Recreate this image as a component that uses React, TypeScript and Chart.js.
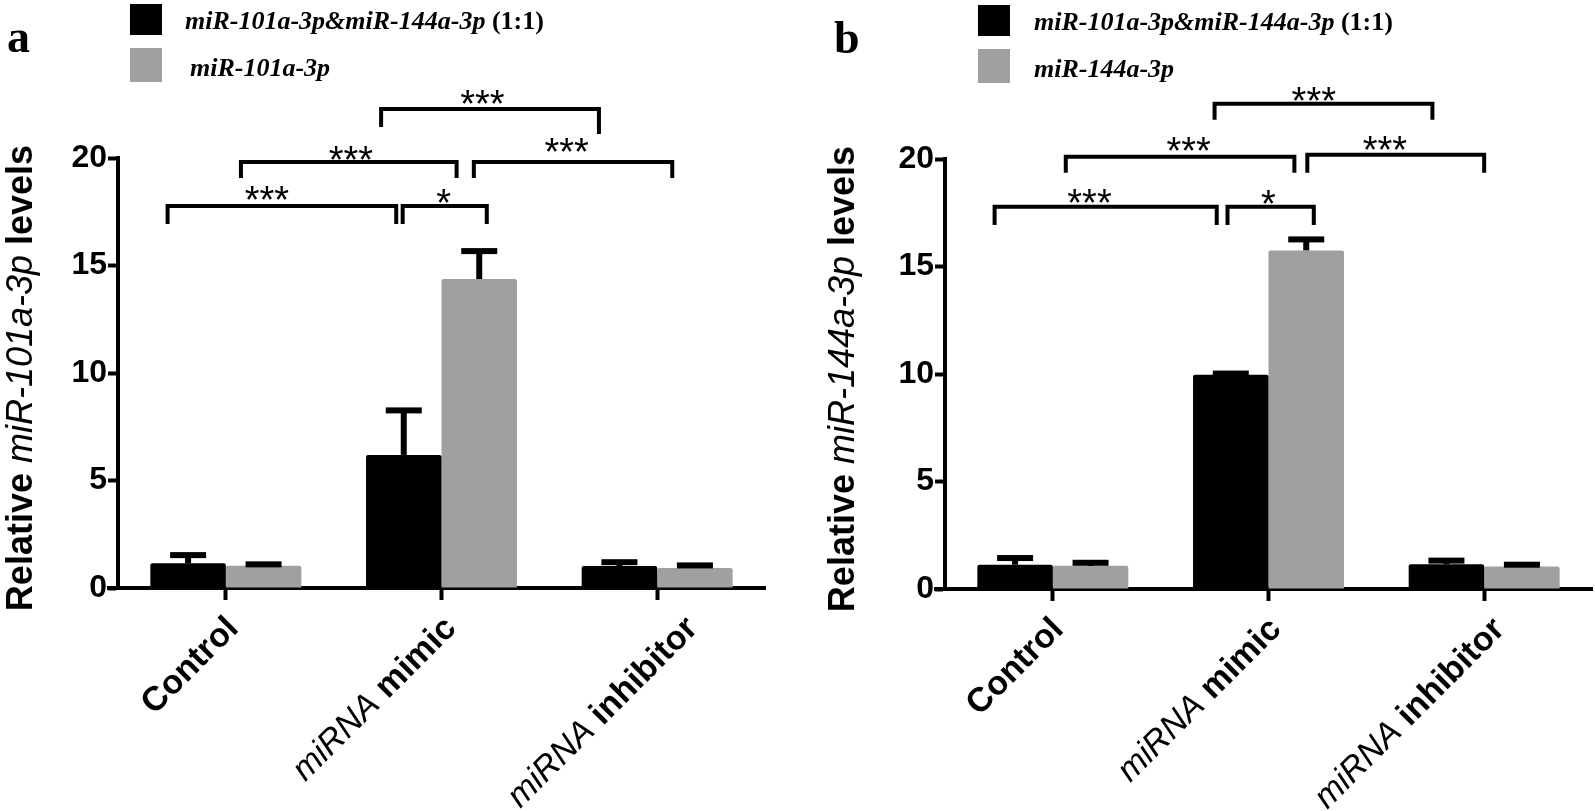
import React, { useEffect, useRef } from "react";
import { Chart, registerables } from "chart.js";

Chart.register(...registerables);

// ---------- shared data ----------
const categories = ["Control", "miRNA mimic", "miRNA inhibitor"];
const yTickValues = [0, 5, 10, 15, 20];
const yMin = 0;
const yMax = 20;
const comboName = "miR-101a-3p&miR-144a-3p";
const comboSuffix = " (1:1)";

// ---------- panel a ----------
const geneA = "miR-101a-3p";
const comboValuesA = [1.15, 6.19, 1.02];
const comboErrorsA = [0.38, 2.07, 0.18];
const singleValuesA = [1.04, 14.37, 0.93];
const singleErrorsA = [0.06, 1.3, 0.12];
const bracketFromA = [-0.27, 0.82, 0.07, 1.15, 0.72];
const bracketToA = [0.79, 1.21, 1.07, 2.07, 1.73];
const bracketLevelA = [17.77, 17.77, 19.81, 19.81, 22.28];
const bracketLegLeftA = [16.93, 16.93, 19.07, 19.07, 21.44];
const bracketLegRightA = [16.93, 16.93, 19.07, 19.07, 21.12];
const bracketTextA = ["***", "*", "***", "***", "***"];
const bracketTextXA = [0.19, 1.01, 0.58, 1.58, 1.19];
const bracketTextYA = [18.44, 18.28, 20.26, 20.65, 22.88];

// ---------- panel b ----------
const geneB = "miR-144a-3p";
const comboValuesB = [1.13, 9.97, 1.15];
const comboErrorsB = [0.31, 0.05, 0.17];
const singleValuesB = [1.08, 15.75, 1.05];
const singleErrorsB = [0.14, 0.51, 0.08];
const bracketFromB = [-0.27, 0.81, 0.06, 1.18, 0.75];
const bracketToB = [0.76, 1.21, 1.12, 2.0, 1.76];
const bracketLevelB = [17.78, 17.78, 20.11, 20.2, 22.57];
const bracketLegLeftB = [16.93, 16.93, 19.36, 19.36, 21.83];
const bracketLegRightB = [16.93, 16.93, 19.36, 19.36, 21.83];
const bracketTextB = ["***", "*", "***", "***", "***"];
const bracketTextXB = [0.17, 1.0, 0.63, 1.54, 1.21];
const bracketTextYB = [18.34, 18.26, 20.73, 20.8, 23.06];

const SANS = "'Liberation Sans', Arial, sans-serif";
const SERIF = "'Liberation Serif', 'Times New Roman', serif";
const BLACK = "#000000";
const GRAY = "#a0a0a0";

type Run = { text: string; font: string };

function drawRuns(ctx: CanvasRenderingContext2D, runs: Run[], x: number, y: number, align: string) {
  const widths = runs.map((r) => {
    ctx.font = r.font;
    return ctx.measureText(r.text).width;
  });
  const total = widths.reduce((a, b) => a + b, 0);
  let cx = align === "left" ? x : align === "center" ? x - total / 2 : x - total;
  ctx.textAlign = "left";
  runs.forEach((r, i) => {
    ctx.font = r.font;
    ctx.fillText(r.text, cx, y);
    cx += widths[i];
  });
}

type PanelCfg = {
  letter: string;
  gene: string;
  combo: number[];
  comboErr: number[];
  single: number[];
  singleErr: number[];
  bFrom: number[];
  bTo: number[];
  bLevel: number[];
  bLegL: number[];
  bLegR: number[];
  bText: string[];
  bTextX: number[];
  bTextY: number[];
  left: number;
  top: number;
  legendSquareX: number;
  legendTextX1: number;
  legendTextX2: number;
  titleX: number;
  labelDx: number[];
};

function Panel({ cfg }: { cfg: PanelCfg }) {
  const ref = useRef<HTMLCanvasElement | null>(null);
  useEffect(() => {
    const canvas = ref.current;
    if (!canvas) return;
    const decor = {
      id: "decor",
      afterDatasetsDraw(chart: any) {
        const ctx: CanvasRenderingContext2D = chart.ctx;
        const ys = chart.scales.y;
        ctx.save();
        ctx.fillStyle = BLACK;
        [0, 1].forEach((di) => {
          const meta = chart.getDatasetMeta(di);
          const vals = di === 0 ? cfg.combo : cfg.single;
          const errs = di === 0 ? cfg.comboErr : cfg.singleErr;
          meta.data.forEach((bar: any, i: number) => {
            const x = bar.x;
            const yTop = ys.getPixelForValue(vals[i]);
            const yErr = ys.getPixelForValue(vals[i] + errs[i]);
            ctx.fillRect(x - 3, yErr, 6, yTop - yErr);
            ctx.fillRect(x - 18, yErr - 3, 36, 6);
          });
        });
        ctx.restore();
      },
      afterDraw(chart: any) {
        const ctx: CanvasRenderingContext2D = chart.ctx;
        const xs = chart.scales.x;
        const ys = chart.scales.y;
        const ca = chart.chartArea;
        const x0 = xs.getPixelForValue(0);
        const step = xs.getPixelForValue(1) - x0;
        const xp = (v: number) => x0 + v * step;
        ctx.save();
        ctx.fillStyle = BLACK;
        ctx.strokeStyle = BLACK;
        // x axis extension to the left of the y axis
        ctx.lineWidth = 4;
        ctx.beginPath();
        ctx.moveTo(ca.left - 11, ca.bottom);
        ctx.lineTo(ca.left, ca.bottom);
        ctx.stroke();
        // brackets
        ctx.lineWidth = 4;
        ctx.lineJoin = "miter";
        cfg.bFrom.forEach((f, i) => {
          const x1 = xp(f);
          const x2 = xp(cfg.bTo[i]);
          const y = ys.getPixelForValue(cfg.bLevel[i]);
          ctx.beginPath();
          ctx.moveTo(x1, ys.getPixelForValue(cfg.bLegL[i]));
          ctx.lineTo(x1, y);
          ctx.lineTo(x2, y);
          ctx.lineTo(x2, ys.getPixelForValue(cfg.bLegR[i]));
          ctx.stroke();
          ctx.font = `38px ${SANS}`;
          ctx.textAlign = "center";
          ctx.textBaseline = "alphabetic";
          ctx.fillText(cfg.bText[i], xp(cfg.bTextX[i]), ys.getPixelForValue(cfg.bTextY[i]) + 21);
        });
        // category labels
        ctx.textBaseline = "alphabetic";
        categories.forEach((c, i) => {
          const tx = xs.getPixelForValue(i);
          ctx.save();
          ctx.translate(tx + 12 + cfg.labelDx[i], ca.bottom + 42);
          ctx.rotate(-Math.PI / 4);
          let runs: Run[];
          if (c.startsWith("miRNA ")) {
            runs = [
              { text: "miRNA", font: `italic 34px ${SANS}` },
              { text: c.slice(5), font: `bold 34px ${SANS}` },
            ];
          } else {
            runs = [{ text: c, font: `bold 34px ${SANS}` }];
          }
          drawRuns(ctx, runs, 0, 0, "right");
          ctx.restore();
        });
        // y title
        ctx.save();
        ctx.translate(cfg.titleX, (ca.top + ca.bottom) / 2 + 5);
        ctx.rotate(-Math.PI / 2);
        drawRuns(
          ctx,
          [
            { text: "Relative ", font: `bold 36px ${SANS}` },
            { text: cfg.gene, font: `italic 36px ${SANS}` },
            { text: " levels", font: `bold 36px ${SANS}` },
          ],
          0,
          0,
          "center"
        );
        ctx.restore();
        // panel letter
        ctx.font = `bold 46px ${SERIF}`;
        ctx.textAlign = "left";
        ctx.fillText(cfg.letter, 7, 52);
        // legend
        ctx.fillStyle = BLACK;
        ctx.fillRect(cfg.legendSquareX, 4, 32, 31);
        ctx.fillStyle = GRAY;
        ctx.fillRect(cfg.legendSquareX, 48, 32, 34);
        ctx.fillStyle = BLACK;
        drawRuns(
          ctx,
          [
            { text: comboName, font: `bold italic 26px ${SERIF}` },
            { text: comboSuffix, font: `bold 26px ${SERIF}` },
          ],
          cfg.legendTextX1,
          29,
          "left"
        );
        drawRuns(ctx, [{ text: cfg.gene, font: `bold italic 26px ${SERIF}` }], cfg.legendTextX2, 76, "left");
        ctx.restore();
      },
    };

    const tickFont = { family: SANS, size: 32, weight: "bold" as const };
    const chart = new Chart(canvas, {
      type: "bar",
      data: {
        labels: categories,
        datasets: [
          {
            label: comboName + comboSuffix,
            data: cfg.combo,
            backgroundColor: BLACK,
            borderWidth: 0,
            borderRadius: 2,
            categoryPercentage: 0.7,
            barPercentage: 1.0,
          },
          {
            label: cfg.gene,
            data: cfg.single,
            backgroundColor: GRAY,
            borderWidth: 0,
            borderRadius: 2,
            categoryPercentage: 0.7,
            barPercentage: 1.0,
          },
        ],
      },
      options: {
        responsive: false,
        animation: false,
        devicePixelRatio: 1,
        layout: { padding: { left: 0, right: 5, top: 158, bottom: 0 } },
        plugins: { legend: { display: false }, tooltip: { enabled: false }, title: { display: false } },
        scales: {
          x: {
            type: "category",
            offset: true,
            grid: {
              display: true,
              drawOnChartArea: false,
              drawTicks: true,
              tickLength: 12,
              tickWidth: 4,
              tickColor: BLACK,
              offset: false,
            },
            border: { display: true, color: BLACK, width: 4 },
            ticks: { display: false },
            afterFit: (s: any) => {
              s.height = 223;
            },
          },
          y: {
            min: yMin,
            max: yMax,
            afterBuildTicks: (s: any) => {
              s.ticks = yTickValues.map((v) => ({ value: v }));
            },
            ticks: { font: tickFont, color: BLACK, padding: 1 },
            grid: {
              display: true,
              drawOnChartArea: false,
              drawTicks: true,
              tickLength: 10,
              tickWidth: 4,
              tickColor: BLACK,
            },
            border: { display: true, color: BLACK, width: 4 },
            afterFit: (s: any) => {
              s.width = 118;
            },
          },
        },
      },
      plugins: [decor],
    } as any);
    return () => chart.destroy();
  }, [cfg]);
  return (
    <canvas
      ref={ref}
      width={770}
      height={811}
      style={{ position: "absolute", left: cfg.left, top: cfg.top, width: 770, height: 811 }}
    />
  );
}

const panelA: PanelCfg = {
  letter: "a",
  gene: geneA,
  combo: comboValuesA,
  comboErr: comboErrorsA,
  single: singleValuesA,
  singleErr: singleErrorsA,
  bFrom: bracketFromA,
  bTo: bracketToA,
  bLevel: bracketLevelA,
  bLegL: bracketLegLeftA,
  bLegR: bracketLegRightA,
  bText: bracketTextA,
  bTextX: bracketTextXA,
  bTextY: bracketTextYA,
  left: 0,
  top: 0,
  legendSquareX: 130,
  legendTextX1: 185,
  legendTextX2: 190,
  titleX: 32,
  labelDx: [2, 4, 30],
};

const panelB: PanelCfg = {
  letter: "b",
  gene: geneB,
  combo: comboValuesB,
  comboErr: comboErrorsB,
  single: singleValuesB,
  singleErr: singleErrorsB,
  bFrom: bracketFromB,
  bTo: bracketToB,
  bLevel: bracketLevelB,
  bLegL: bracketLegLeftB,
  bLegR: bracketLegRightB,
  bText: bracketTextB,
  bTextX: bracketTextXB,
  bTextY: bracketTextYB,
  left: 827,
  top: 1,
  legendSquareX: 151,
  legendTextX1: 207,
  legendTextX2: 207,
  titleX: 27,
  labelDx: [0, 2, 10],
};

export default function App() {
  return (
    <div style={{ position: "fixed", left: 0, top: 0, width: 1595, height: 811, background: "#ffffff", overflow: "hidden" }}>
      <Panel cfg={panelA} />
      <Panel cfg={panelB} />
    </div>
  );
}
